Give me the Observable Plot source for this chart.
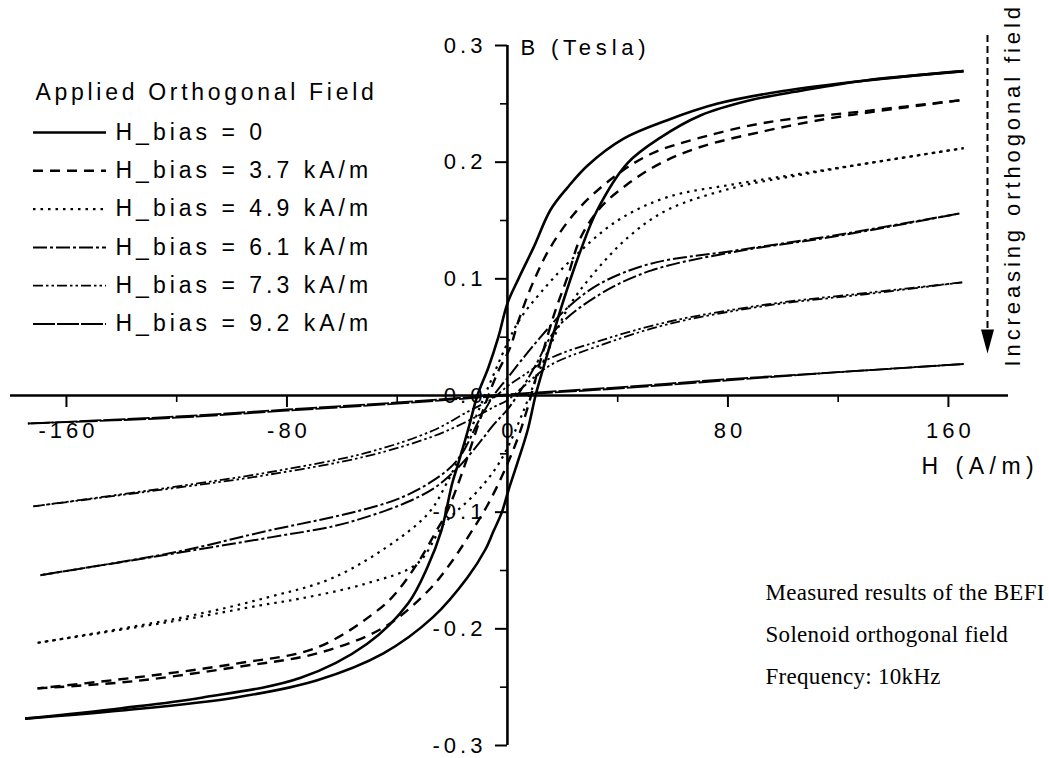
<!DOCTYPE html>
<html><head><meta charset="utf-8">
<script src="https://cdn.jsdelivr.net/npm/d3@7"></script>
<script src="https://cdn.jsdelivr.net/npm/@observablehq/plot@0.6"></script>
<style>html,body{margin:0;padding:0;background:#fff;} svg{display:block}</style>
</head><body><div id="chart"></div>
<script>
// ---------- data ----------
const seriesLabels = ["H_bias = 0", "H_bias = 3.7 kA/m", "H_bias = 4.9 kA/m",
                      "H_bias = 6.1 kA/m", "H_bias = 7.3 kA/m", "H_bias = 9.2 kA/m"];
const legendTitle = "Applied Orthogonal Field";
const xTicks = [-160, -80, 0, 80, 160];
const xTickLabels = ["-160", "-80", "0", "80", "160"];
const xMinorTicks = [-120, -40, 40, 120];
const yTicks = [-0.3, -0.2, -0.1, 0, 0.1, 0.2, 0.3];
const yTickLabels = ["-0.3", "-0.2", "-0.1", "0.0", "0.1", "0.2", "0.3"];
const yMinorTicks = [-0.25, -0.15, -0.05, 0.05, 0.15, 0.25];
const xLabel = "H (A/m)";
const yLabel = "B (Tesla)";
const arrowLabel = "Increasing orthogonal field";
const noteLines = ["Measured results of the BEFI", "Solenoid orthogonal field", "Frequency: 10kHz"];

// H (A/m), B (T) — descending branch (from +H to -H) and ascending branch (from -H to +H)
const bias0Desc = [[165.5,0.278],[130,0.270],[100,0.261],[76,0.250],[58,0.236],[42,0.220],[29,0.197],[21.7,0.178],[15.6,0.159],[9.5,0.127],[4,0.100],[0,0.079],[-3.3,0.050],[-6.9,0.024],[-10.9,0],[-14,-0.027],[-17.8,-0.058],[-20,-0.075],[-24,-0.116],[-29,-0.147],[-36,-0.178],[-51,-0.213],[-75,-0.242],[-111,-0.259],[-140,-0.268],[-175,-0.277]];
const bias0Asc = [[-175,-0.277],[-140,-0.270],[-99,-0.259],[-69,-0.244],[-45,-0.221],[-27,-0.190],[-14.5,-0.156],[-8,-0.132],[-5,-0.116],[-2,-0.100],[0.4,-0.081],[3.6,-0.058],[7.3,-0.030],[10.2,0],[12.7,0.021],[16.3,0.050],[20,0.079],[26.5,0.124],[32.6,0.159],[43.5,0.199],[55.5,0.221],[70,0.240],[88,0.253],[106,0.261],[130,0.270],[165.5,0.278]];

const bias37Desc = [[164,0.253],[130.6,0.244],[94,0.234],[70,0.221],[52,0.207],[38.5,0.187],[25.4,0.159],[15.6,0.127],[9.5,0.098],[4,0.064],[1,0.041],[-3.3,0.021],[-8,-0.007],[-12,-0.035],[-17,-0.070],[-22,-0.100],[-26,-0.117],[-31.6,-0.140],[-40,-0.168],[-47,-0.184],[-69,-0.216],[-99,-0.230],[-136,-0.242],[-170.5,-0.251]];
const bias37Asc = [[-170.5,-0.251],[-136,-0.245],[-99,-0.233],[-69,-0.221],[-45,-0.199],[-29,-0.168],[-20.7,-0.144],[-13.4,-0.118],[-7,-0.093],[-1,-0.064],[4,-0.035],[8,-0.005],[12,0.030],[17,0.070],[22,0.103],[26.5,0.135],[33.7,0.161],[43.5,0.181],[55.5,0.199],[70,0.213],[94,0.227],[118,0.238],[164,0.253]];

const bias49Desc = [[165.5,0.212],[130.6,0.199],[106,0.190],[82,0.181],[58,0.170],[40,0.150],[23,0.116],[12,0.088],[4.7,0.066],[0,0.045],[-5,0.018],[-10,-0.010],[-16,-0.045],[-22,-0.075],[-28,-0.099],[-39,-0.122],[-63,-0.156],[-87,-0.173],[-117.5,-0.190],[-170.5,-0.212]];
const bias49Asc = [[-170.5,-0.212],[-117.5,-0.192],[-90,-0.180],[-75,-0.174],[-51,-0.161],[-32.7,-0.144],[-23,-0.110],[-12,-0.085],[-4.7,-0.064],[0,-0.045],[5,-0.018],[10,0.012],[16,0.045],[22,0.075],[30,0.101],[43.5,0.135],[58,0.159],[82,0.178],[106,0.189],[130.6,0.199],[165.5,0.212]];

const bias61Desc = [[164,0.156],[118,0.137],[82,0.124],[52,0.113],[33.7,0.096],[21.7,0.075],[12,0.050],[5,0.030],[0,0.015],[-5,0],[-10,-0.020],[-18,-0.055],[-27,-0.073],[-39,-0.088],[-51,-0.097],[-63,-0.104],[-87,-0.116],[-120,-0.134],[-169.5,-0.154]];
const bias61Asc = [[-169.5,-0.154],[-120,-0.135],[-87,-0.122],[-63,-0.112],[-51,-0.104],[-39,-0.094],[-27,-0.080],[-18,-0.062],[-10,-0.040],[-5,-0.025],[0,-0.012],[5,0.005],[10,0.025],[18,0.058],[33.7,0.087],[52,0.107],[82,0.123],[118,0.136],[164,0.156]];

const bias73Desc = [[165,0.097],[130.6,0.088],[94,0.078],[58,0.063],[33.7,0.047],[15.6,0.032],[5,0.016],[0,0.008],[-5,-0.002],[-14.5,-0.014],[-27,-0.030],[-51,-0.049],[-87,-0.066],[-123,-0.079],[-172,-0.095]];
const bias73Asc = [[-172,-0.095],[-123,-0.080],[-87,-0.068],[-51,-0.052],[-27,-0.035],[-14.5,-0.022],[-5,-0.010],[0,-0.004],[5,0.006],[15.6,0.026],[33.7,0.043],[58,0.061],[94,0.077],[130.6,0.087],[165,0.097]];

const bias92Desc = [[165.5,0.027],[120,0.020],[80,0.014],[40,0.007],[0,0.001],[-40,-0.006],[-80,-0.012],[-120,-0.018],[-174,-0.024]];
const bias92Asc = [[-174,-0.024],[-120,-0.019],[-80,-0.013],[-40,-0.007],[0,0],[40,0.006],[80,0.013],[120,0.020],[165.5,0.027]];

const branches = [
  [bias0Desc, bias0Asc], [bias37Desc, bias37Asc], [bias49Desc, bias49Asc],
  [bias61Desc, bias61Asc], [bias73Desc, bias73Asc], [bias92Desc, bias92Asc]
];

// ---------- styles ----------
const lineStyles = [
  {strokeWidth: 2.6, strokeDasharray: null},
  {strokeWidth: 2.4, strokeDasharray: "10,7"},
  {strokeWidth: 2.2, strokeDasharray: "2.5,5"},
  {strokeWidth: 2.0, strokeDasharray: "14,3,3,3"},
  {strokeWidth: 1.8, strokeDasharray: "10,3,2.5,3,2.5,3"},
  {strokeWidth: 1.8, strokeDasharray: "22,2"}
];

// ---------- layout ----------
const W = 1049, HT = 758;
const M = {top: 45, right: 41, bottom: 13, left: 10};
const xDomain = [-180.3, 181.8], yDomain = [-0.3, 0.3];
// pixel -> data helpers for annotation placement
const px = v => xDomain[0] + (v - M.left) / (W - M.left - M.right) * (xDomain[1] - xDomain[0]);
const py = v => yDomain[1] - (v - M.top) / (HT - M.top - M.bottom) * (yDomain[1] - yDomain[0]);

const rows = [];
branches.forEach((pair, s) => pair.forEach((br, b) => br.forEach(([H, B]) =>
  rows.push({series: seriesLabels[s], s, branch: b, H, B}))));

const SANS = "'Liberation Sans', Arial, Helvetica, sans-serif";
const SERIF = "'Liberation Serif', 'Times New Roman', serif";

const marks = [];
// axes
marks.push(Plot.ruleY([0], {strokeWidth: 2.6, stroke: "black"}));
marks.push(Plot.ruleX([0], {strokeWidth: 2.6, stroke: "black"}));
marks.push(Plot.ruleX(xTicks, {x: d => d, y1: 0, y2: 0, insetBottom: -12, strokeWidth: 2, stroke: "black"}));
marks.push(Plot.ruleX(xMinorTicks, {x: d => d, y1: 0, y2: 0, insetBottom: -7, strokeWidth: 1.6, stroke: "black"}));
marks.push(Plot.ruleY(yTicks, {y: d => d, x1: 0, x2: 0, insetLeft: -12, strokeWidth: 2, stroke: "black"}));
marks.push(Plot.ruleY(yMinorTicks, {y: d => d, x1: 0, x2: 0, insetLeft: -7, strokeWidth: 1.6, stroke: "black"}));
marks.push(Plot.text(xTicks, {x: d => d, y: 0, text: (d, i) => xTickLabels[i], dy: 35, dx: 2, lineAnchor: "middle",
  fontSize: 22, fontFamily: SANS, fill: "black"}));
marks.push(Plot.text(yTicks, {x: 0, y: d => d, text: (d, i) => yTickLabels[i], dx: -21, textAnchor: "end", lineAnchor: "middle",
  fontSize: 22, fontFamily: SANS, fill: "black"}));

// curves
seriesLabels.forEach((name, s) => {
  marks.push(Plot.line(rows.filter(r => r.s === s), {x: "H", y: "B", z: "branch",
    stroke: "black", strokeWidth: lineStyles[s].strokeWidth,
    strokeDasharray: lineStyles[s].strokeDasharray || undefined,
    curve: "catmull-rom", strokeLinecap: "butt"}));
});

// legend
marks.push(Plot.text([legendTitle], {x: px(35), y: py(92), text: d => d, textAnchor: "start", lineAnchor: "middle",
  fontSize: 23, fontFamily: SANS, fill: "black"}));
seriesLabels.forEach((name, s) => {
  const yy = py(132 + 38.3 * s);
  marks.push(Plot.ruleY([yy], {y: d => d, x1: px(33), x2: px(106), stroke: "black",
    strokeWidth: lineStyles[s].strokeWidth, strokeDasharray: lineStyles[s].strokeDasharray || undefined}));
});
marks.push(Plot.text(seriesLabels, {x: px(115), y: (d, i) => py(132 + 38.3 * i), text: d => d, textAnchor: "start", lineAnchor: "middle",
  fontSize: 23, fontFamily: SANS, fill: "black"}));

// axis titles
marks.push(Plot.text([yLabel], {x: px(520), y: py(47), text: d => d, textAnchor: "start", lineAnchor: "middle",
  fontSize: 22, fontFamily: SANS, fill: "black"}));
marks.push(Plot.text([xLabel], {x: px(921), y: py(466), text: d => d, textAnchor: "start", lineAnchor: "middle",
  fontSize: 23, fontFamily: SANS, fill: "black"}));

// arrow + rotated label
marks.push(Plot.ruleX([px(987)], {x: d => d, y1: py(35), y2: py(334), stroke: "black", strokeWidth: 2, strokeDasharray: "7,4"}));
const arrowHead = {draw(ctx) { ctx.moveTo(-6.5, -12); ctx.lineTo(6.5, -12); ctx.lineTo(0, 12); ctx.closePath(); }};
marks.push(Plot.dot([0], {x: () => px(987), y: () => py(341), symbol: arrowHead, fill: "black", stroke: "none"}));
marks.push(Plot.text([arrowLabel], {x: px(1012), y: py(366), text: d => d, rotate: -90, textAnchor: "start", lineAnchor: "middle",
  fontSize: 22, fontFamily: SANS, fill: "black"}));

// note
marks.push(Plot.text(noteLines, {x: px(765), y: (d, i) => py(592 + 42 * i), text: d => d, textAnchor: "start", lineAnchor: "middle",
  fontSize: 23, fontFamily: SERIF, fill: "black"}));

const chart = Plot.plot({
  width: W, height: HT,
  marginTop: M.top, marginRight: M.right, marginBottom: M.bottom, marginLeft: M.left,
  x: {domain: xDomain, axis: null},
  y: {domain: yDomain, axis: null},
  style: {background: "#fff", color: "black", fontFamily: SANS},
  marks
});
document.getElementById("chart").appendChild(chart);

// letter spacing (the original uses widely tracked type)
const spacing = new Map();
xTickLabels.forEach(t => spacing.set(t, 4));
yTickLabels.forEach(t => spacing.set(t, 4));
seriesLabels.forEach(t => spacing.set(t, 4));
spacing.set(legendTitle, 3.7);
spacing.set(yLabel, 4.8);
spacing.set(xLabel, 5.5);
spacing.set(arrowLabel, 3.9);
noteLines.forEach(t => spacing.set(t, 0.3));
d3.select(chart).selectAll("text").each(function() {
  const t = this.textContent;
  if (spacing.has(t)) this.setAttribute("letter-spacing", spacing.get(t) + "px");
});
</script>
</body></html>
